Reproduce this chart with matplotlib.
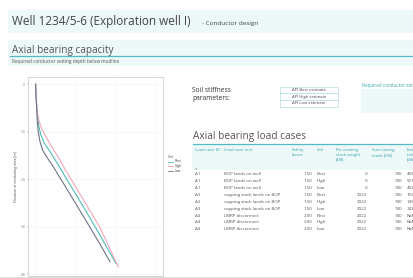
import matplotlib
matplotlib.use("Agg")
import matplotlib.pyplot as plt
from matplotlib.patches import Rectangle
from matplotlib.lines import Line2D

plt.rcParams['font.family'] = ['Open Sans', 'DejaVu Sans']

W, H = 414, 278

# bearing capacity curves (capacity vs. elevation of conductor shoe)
soils = ['Best', 'High', 'Low']
soil_colors = {'Best': '#4dbfb8', 'High': '#f2a7b6', 'Low': '#6f7488'}
cap_high = [0, 17, 50, 100, 183, 300, 467, 717, 1133, 1550, 2383, 3217, 4133]
depth_high = [0, -2.0, -4.1, -6.2, -7.9, -9.3, -10.7, -12.6, -15.4, -18.5, -24.3, -30.2, -38.5]
cap_best = [0, 17, 50, 100, 167, 267, 433, 717, 1133, 1550, 2383, 3217, 4017]
depth_best = [0, -2.0, -4.4, -7.0, -9.0, -10.7, -12.4, -14.2, -17.0, -20.0, -25.8, -31.8, -37.8]
cap_low = [0, 17, 50, 83, 133, 217, 350, 550, 883, 1550, 2383, 3217, 3717]
depth_low = [0, -2.3, -4.8, -7.6, -10.0, -12.1, -13.9, -15.3, -17.4, -22.0, -27.8, -33.7, -37.4]
curves = {'Best': (cap_best, depth_best),
          'High': (cap_high, depth_high),
          'Low': (cap_low, depth_low)}
y_ticks = [0, -10, -20, -30, -40]

stiffness_options = ['API Best estimate', 'API High estimate', 'API Low estimate']

# load case table
col_headers = ['Load case ID', 'Load case text', 'Safety\nfactor', 'Soil',
               'Pre-existing\nstack weight\n[kN]', 'Sum casing\nloads [kN]',
               'External\ninitial\n[kN]']
case_ids = ['A1', 'A1', 'A1', 'A3', 'A3', 'A3', 'A4', 'A4', 'A4']
case_texts = ['BOP lands on well'] * 3 + ['capping stack lands on BOP'] * 3 + ['LMRP disconnect'] * 3
safety_factors = [1.50, 1.50, 1.50, 1.50, 1.50, 1.50, 2.00, 2.00, 2.00]
case_soils = ['Best', 'High', 'Low'] * 3
stack_weights = [0, 0, 0, 2022, 2022, 2022, 2022, 2022, 2022]
casing_loads = [740] * 9
ext_loads = ['4938', '5210', '4021', '1532', '1456', '1423', 'NaN', 'NaN', 'NaN']


def fx(x):
    return x / W


def fy(y):
    return 1 - y / H


fig = plt.figure(figsize=(W / 100, H / 100), dpi=100)
fig.patch.set_facecolor('white')

band = '#edf8f8'
teal = '#52b9c6'
grey_txt = '#555555'


def rect(x0, y0, x1, y1, fc, ec='none', lw=0.0):
    fig.patches.append(Rectangle((fx(x0), fy(y1)), (x1 - x0) / W, (y1 - y0) / H,
                                 transform=fig.transFigure, facecolor=fc,
                                 edgecolor=ec, linewidth=lw, zorder=0))


def hline(x0, x1, y, color, lw):
    fig.lines.append(Line2D([fx(x0), fx(x1)], [fy(y), fy(y)], transform=fig.transFigure,
                            color=color, linewidth=lw))


# header bands
rect(8, 10, 414, 33, band)
rect(8, 40, 414, 66, band)
fig.text(fx(12), fy(22), 'Well 1234/5-6 (Exploration well I)', fontsize=8.5,
         color='#444444', va='center')
fig.text(fx(202), fy(23), '- Conductor design', fontsize=4.6, color='#444444', va='center')

fig.text(fx(12), fy(50), 'Axial bearing capacity', fontsize=7.2, color=grey_txt, va='center')
hline(10, 414, 56, teal, 0.9)
fig.text(fx(12), fy(62), 'Required conductor setting depth below mudline', fontsize=3.4,
         color='#555555', va='center')

# chart
ax = fig.add_axes([fx(28), fy(276), (163 - 28) / W, (276 - 77) / H])
for s in soils:
    cap, dep = curves[s]
    ax.plot(cap, dep, color=soil_colors[s], linewidth=0.8, label=s)
ax.set_xlim(-380, 6365)
ax.set_ylim(-40.4, 1.5)
ax.set_yticks(y_ticks)
ax.set_yticklabels([str(t) for t in y_ticks])
ax.set_xticks([0, 2000, 4000, 6000])
ax.set_xticklabels([])
ax.tick_params(axis='y', labelsize=2.3, length=1, width=0.3, colors='#777777', pad=1)
ax.tick_params(axis='x', length=1, width=0.3, colors='#999999')
ax.grid(True, color='#f0f0f0', linewidth=0.4)
for sp in ax.spines.values():
    sp.set_color('#cfcfcf')
    sp.set_linewidth(0.6)
ax.set_ylabel('Elevation of conducting shoe [m]', fontsize=2.4, color='#444444', labelpad=2)

# legend
fig.text(fx(168), fy(157), 'Soil', fontsize=2.5, color='#444444', va='center')
for i, s in enumerate(soils):
    yy = 161.5 + i * 4.5
    hline(168, 173, yy, soil_colors[s], 0.6)
    fig.text(fx(174.5), fy(yy), s, fontsize=2.4, color='#444444', va='center')

# soil stiffness selector
fig.text(fx(192), fy(90), 'Soil stiffness', fontsize=4.8, color='#333333', va='center')
fig.text(fx(192), fy(98), 'parameters:', fontsize=4.8, color='#333333', va='center')
for i, opt in enumerate(stiffness_options):
    y0 = 86.5 + i * 6.7
    rect(280, y0, 338, y0 + 6.7, 'white', ec='#9fd8dc', lw=0.4)
    fig.text(fx(309), fy(y0 + 3.35), opt, fontsize=3.0, color='#444444',
             ha='center', va='center')
fig.text(fx(362), fy(85), 'Required conductor setting depth', fontsize=3.3, color='#3aa3ae',
         va='center')
rect(361, 89, 414, 113, band)

# load case table
fig.text(fx(193), fy(137), 'Axial bearing load cases', fontsize=7.3, color=grey_txt,
         va='center')
hline(193, 414, 144, teal, 0.9)
rect(192, 145, 414, 170, band)

col_x = [195, 224, 292, 316.5, 336, 372.5, 406.5]
for x, h in zip(col_x, col_headers):
    fig.text(fx(x), fy(148), h, fontsize=3.1, color='#3aa3ae', va='top', linespacing=1.3)
fig.text(fx(195), fy(169), '*', fontsize=2.8, color='#555555', va='center')

row_y0, row_dy = 174.3, 6.88
for i in range(len(case_ids)):
    yy = fy(row_y0 + i * row_dy)
    kw = dict(fontsize=3.2, color='#555555', va='center')
    fig.text(fx(195), yy, case_ids[i], **kw)
    fig.text(fx(224), yy, case_texts[i], **kw)
    fig.text(fx(312.7), yy, f'{safety_factors[i]:.2f}', ha='right', **kw)
    fig.text(fx(316.5), yy, case_soils[i], **kw)
    fig.text(fx(367), yy, str(stack_weights[i]), ha='right', **kw)
    fig.text(fx(402.7), yy, str(casing_loads[i]), ha='right', **kw)
    fig.text(fx(406.5), yy, ext_loads[i], **kw)

hline(0, 414, 276.5, '#d5d5d5', 0.6)

fig.savefig('out.png', dpi=100)
